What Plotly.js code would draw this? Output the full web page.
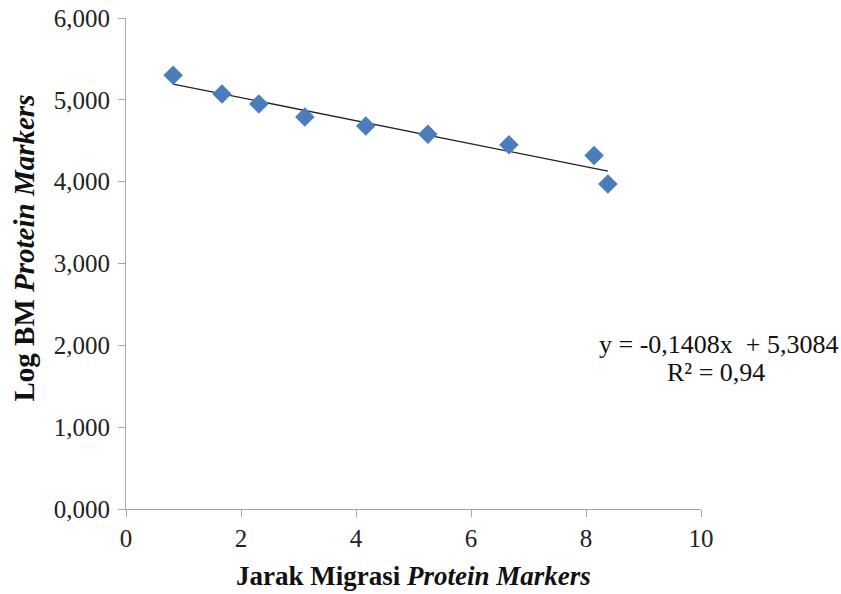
<!DOCTYPE html>
<html>
<head>
<meta charset="utf-8">
<script src="https://cdn.plot.ly/plotly-3.0.1.min.js"></script>
<style>html,body{margin:0;padding:0;background:#fff;}#chart{width:841px;height:594px;}</style>
</head>
<body>
<div id="chart"></div>
<script>
const jarakMigrasi = [0.82, 1.67, 2.31, 3.11, 4.17, 5.25, 6.66, 8.14, 8.38];
const logBM = [5.30, 5.07, 4.95, 4.79, 4.68, 4.58, 4.45, 4.32, 3.97];
const slope = -0.1408;
const intercept = 5.3084;
const equationLine = "y = -0,1408x  + 5,3084";
const r2Line = "R² = 0,94";
const xTitle = "<b>Jarak Migrasi <i>Protein Markers</i></b>";
const yTitle = "<b>Log BM <i>Protein Markers</i></b>";

const xMin = Math.min(...jarakMigrasi), xMax = Math.max(...jarakMigrasi);
const trendX = [xMin, xMax];
const trendY = trendX.map(v => slope * v + intercept);

const font = "'Liberation Serif', 'Times New Roman', serif";

Plotly.newPlot('chart', [
  {x: trendX, y: trendY, mode: 'lines', line: {color: '#222', width: 1.3}, hoverinfo: 'skip'},
  {x: jarakMigrasi, y: logBM, mode: 'markers', marker: {symbol: 'diamond', size: 15, color: '#4A7EBB'}}
], {
  width: 841, height: 594,
  margin: {l: 126, r: 140, t: 18, b: 85},
  paper_bgcolor: '#fff', plot_bgcolor: '#fff',
  showlegend: false,
  separators: ',.',
  font: {family: font, color: '#222', size: 25},
  xaxis: {
    range: [0, 10], dtick: 2, tick0: 0, showgrid: false, zeroline: false,
    showline: true, linecolor: '#a6a6a6', linewidth: 1,
    ticks: 'outside', ticklen: 7, tickcolor: '#a6a6a6',
    tickfont: {family: font, size: 25, color: '#222'}
  },
  yaxis: {
    range: [0, 6], dtick: 1, tick0: 0, tickformat: '.3f', showgrid: false, zeroline: false,
    showline: true, linecolor: '#a6a6a6', linewidth: 1,
    ticks: 'outside', ticklen: 7, tickcolor: '#a6a6a6', ticklabelstandoff: 3,
    tickfont: {family: font, size: 25, color: '#222'}
  },
  annotations: [
    {xref: 'paper', yref: 'paper', x: 1.0296, y: 0.336, xanchor: 'center', yanchor: 'middle',
     text: equationLine, showarrow: false, font: {family: font, size: 26, color: '#111'}},
    {xref: 'paper', yref: 'paper', x: 1.026, y: 0.279, xanchor: 'center', yanchor: 'middle',
     text: r2Line, showarrow: false, font: {family: font, size: 26, color: '#111'}},
    {xref: 'paper', yref: 'paper', x: 0.5, y: -0.136, xanchor: 'center', yanchor: 'middle',
     text: xTitle, showarrow: false, font: {family: font, size: 27, color: '#111'}},
    {xref: 'paper', yref: 'paper', x: -0.177, y: 0.531, xanchor: 'center', yanchor: 'middle',
     text: yTitle, textangle: -90, showarrow: false, font: {family: font, size: 29, color: '#111'}}
  ]
}, {displayModeBar: false});
</script>
</body>
</html>
